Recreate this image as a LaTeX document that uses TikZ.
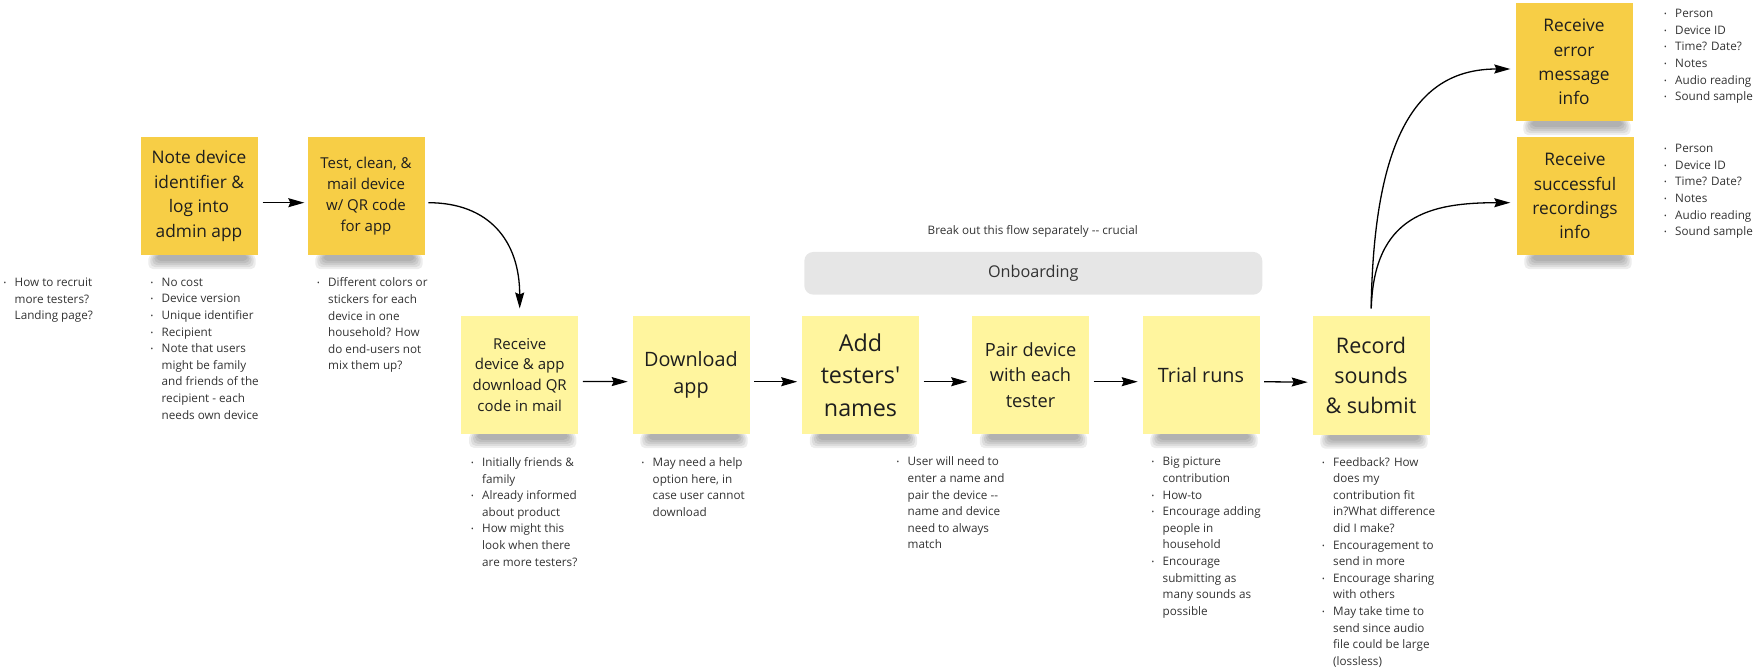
\documentclass[tikz,border=0pt]{standalone}
\usepackage{fontspec}
\setmainfont{Open Sans}
\usetikzlibrary{arrows.meta,backgrounds}

\definecolor{stickydark}{RGB}{247,206,70}
\definecolor{stickylight}{RGB}{255,245,158}
\definecolor{barfill}{RGB}{230,230,230}
\definecolor{notegray}{RGB}{51,51,51}
\definecolor{stickytext}{RGB}{30,30,30}

\newcommand\notebul{\makebox[11pt][l]{\raisebox{1pt}{\scalebox{.6}{\textbullet}}}}
\newcommand\noteind{\hspace*{11pt}}

\tikzset{
  sticky/.style={minimum width=117pt, minimum height=118pt, inner sep=0pt, align=center, text=stickytext},
  darknote/.style={sticky, fill=stickydark},
  lightnote/.style={sticky, fill=stickylight},
  bullets/.style={anchor=north west, align=left, inner sep=0pt, text=notegray, font=\fontsize{11.7}{16.6}\selectfont},
  conn/.style={line width=1.3pt, -{Stealth[length=16pt,width=9pt,inset=2pt]}}
}

\begin{document}
\begin{tikzpicture}[x=1pt,y=-1pt]
                \useasboundingbox (0,0) rectangle (1756,668);
                % top row
                \node[darknote, font=\fontsize{17.3}{24.4}\selectfont] (note) at (199,196) {Note device\\identifier \&\\log into\\admin app};
                \node[darknote, font=\fontsize{15}{20.8}\selectfont] (test) at (366,196) {Test, clean, \&\\mail device\\w/ QR code\\for app};
                % main row
                \node[lightnote, font=\fontsize{15}{20.7}\selectfont] (recv) at (519.7,374.7) {Receive\\device \& app\\download QR\\code in mail};
                \node[lightnote, font=\fontsize{19.8}{27.3}\selectfont] (dload) at (691,375) {Download\\app};
                \node[lightnote, font=\fontsize{23.3}{32.5}\selectfont] (add) at (860.5,375) {Add\\testers\textquotesingle\\names};
                \node[lightnote, font=\fontsize{18.2}{25.5}\selectfont] (pair) at (1030.5,375) {Pair device\\with each\\tester};
                \node[lightnote, font=\fontsize{19.8}{27.3}\selectfont] (trial) at (1201,375) {Trial runs};
                \node[lightnote, font=\fontsize{21.5}{30}\selectfont] (rec) at (1371,375.5) {Record\\sounds\\\& submit};
                % results
                \node[darknote, font=\fontsize{17.3}{24.2}\selectfont] (err) at (1574,62) {Receive\\error\\message\\info};
                \node[darknote, font=\fontsize{17.3}{24.2}\selectfont] (succ) at (1575,196) {Receive\\successful\\recordings\\info};

                % onboarding bar
                \node[anchor=base, text=notegray, font=\fontsize{11.7}{14}\selectfont] (brk) at (1032.8,234.8) {Break out this flow separately -{}- crucial};
                \node[fill=barfill, rounded corners=9pt, minimum width=458pt, minimum height=42.7pt, text=notegray, font=\fontsize{16.2}{20}\selectfont] (onb) at (1033.3,273.3) {Onboarding};

                % shadows
                \begin{scope}[on background layer]
                \foreach \s in {note,test,recv,dload,add,pair,trial,rec,err,succ}
                  \foreach \k in {0,...,4}
                    \fill[black, opacity=.07, rounded corners=5pt] ([xshift={(8+2*\k)*1pt}, yshift=1pt]\s.south west) rectangle ([xshift={-(2+2*\k)*1pt}, yshift={-(14-2*\k)*1pt}]\s.south east);
                \end{scope}

                % connectors
                \draw[conn, shorten <=5pt, shorten >=3pt] ([yshift=-6.7pt]note.east) -- ([yshift=-6.7pt]test.west);
                \draw[conn, shorten <=3.6pt, shorten >=7pt] ([yshift=-6.7pt]test.east) .. controls +(64,0) and +(0,-75) .. (recv.north);
                \foreach \a/\b in {recv/dload,dload/add,add/pair,pair/trial,trial/rec}
                  \draw[conn, shorten <=4.4pt, shorten >=4.6pt] ([yshift=-6.7pt]\a.east) -- ([yshift=-6.7pt]\b.west);
                \draw[conn, shorten <=8pt, shorten >=5pt] (rec.north) .. controls +(3,-186) and +(-95,0) .. ([yshift=-7pt]err.west);
                \draw[conn, shorten <=8pt, shorten >=6pt] (rec.north) .. controls +(3,-101) and +(-86,0) .. ([yshift=-6.7pt]succ.west);

                % notes
                \node[bullets] (n0) at (3.5,277.8) {\notebul How to recruit\\\noteind more testers?\\\noteind Landing page?};
                \node[bullets] (n1) at (150.5,277.8) {\notebul No cost\\\notebul Device version\\\notebul Unique identifier\\\notebul Recipient\\\notebul Note that users\\\noteind might be family\\\noteind and friends of the\\\noteind recipient - each\\\noteind needs own device};
                \node[bullets] (n2) at (317,277.8) {\notebul Different colors or\\\noteind stickers for each\\\noteind device in one\\\noteind household? How\\\noteind do end-users not\\\noteind mix them up?};
                \node[bullets] (n3) at (471,457.4) {\notebul Initially friends \&\\\noteind family\\\notebul Already informed\\\noteind about product\\\notebul How might this\\\noteind look when there\\\noteind are more testers?};
                \node[bullets] (n4) at (641.5,457.4) {\notebul May need a help\\\noteind option here, in\\\noteind case user cannot\\\noteind download};
                \node[bullets] (n5) at (896.5,456.8) {\notebul User will need to\\\noteind enter a name and\\\noteind pair the device -{}-\\\noteind name and device\\\noteind need to always\\\noteind match};
                \node[bullets] (n6) at (1151.5,457.1) {\notebul Big picture\\\noteind contribution\\\notebul How-to\\\notebul Encourage adding\\\noteind people in\\\noteind household\\\notebul Encourage\\\noteind submitting as\\\noteind many sounds as\\\noteind possible};
                \node[bullets] (n7) at (1322,457.1) {\notebul Feedback? How\\\noteind does my\\\noteind contribution fit\\\noteind in?What difference\\\noteind did I make?\\\notebul Encouragement to\\\noteind send in more\\\notebul Encourage sharing\\\noteind with others\\\notebul May take time to\\\noteind send since audio\\\noteind file could be large\\\noteind (lossless)};
                \node[bullets] (n8) at (1664,9.1) {\notebul Person\\\notebul Device ID\\\notebul Time? Date?\\\notebul Notes\\\notebul Audio reading\\\notebul Sound sample};
                \node[bullets] (n9) at (1664,144.1) {\notebul Person\\\notebul Device ID\\\notebul Time? Date?\\\notebul Notes\\\notebul Audio reading\\\notebul Sound sample};
\end{tikzpicture}
\end{document}
